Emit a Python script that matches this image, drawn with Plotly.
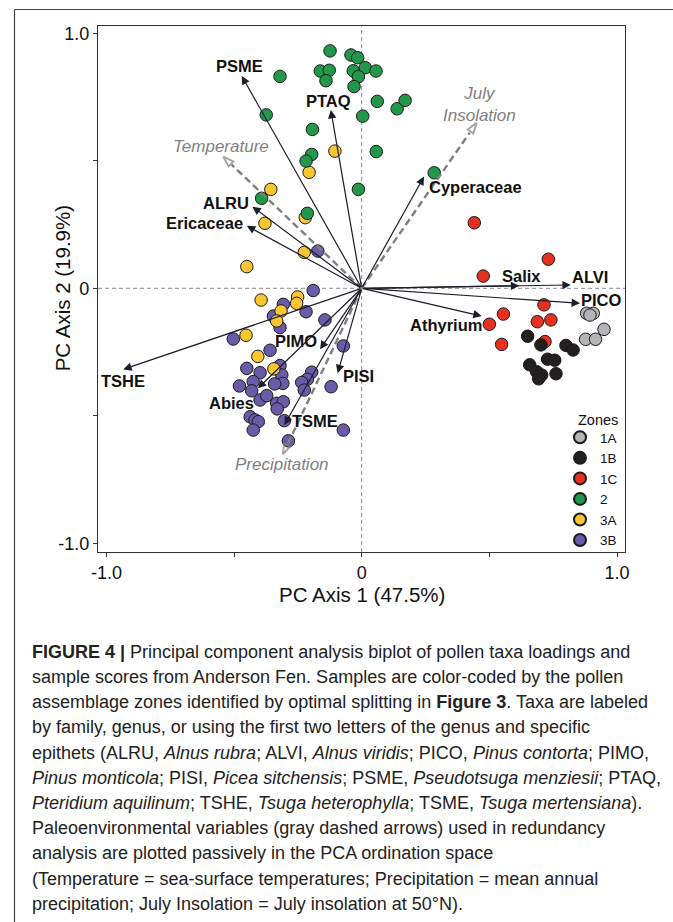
import plotly.graph_objects as go

# ---------------- data ----------------
zones = ["1A", "1B", "1C", "2", "3A", "3B"]

pc1_1A = [0.881, 0.907, 0.894, 0.949, 0.877, 0.916]
pc2_1A = [-0.098, -0.098, -0.105, -0.161, -0.200, -0.200]

pc1_1B = [0.650, 0.702, 0.800, 0.828, 0.728, 0.756, 0.658, 0.685, 0.705, 0.693, 0.761]
pc2_1B = [-0.188, -0.222, -0.224, -0.242, -0.278, -0.282, -0.300, -0.327, -0.340, -0.355, -0.335]

pc1_1C = [0.441, 0.731, 0.476, 0.714, 0.555, 0.500, 0.688, 0.741, 0.548, 0.718]
pc2_1C = [0.257, 0.114, 0.048, -0.065, -0.101, -0.141, -0.131, -0.124, -0.220, -0.209]

pc1_2 = [-0.124, -0.042, -0.016, -0.162, -0.127, -0.140, -0.033, 0.014, 0.056, -0.013,
         -0.030, -0.320, 0.061, 0.139, 0.170, 0.004, -0.374, -0.193, -0.196, -0.218,
         0.057, -0.013, 0.284, -0.392, -0.213]
pc2_2 = [0.931, 0.915, 0.904, 0.852, 0.855, 0.814, 0.853, 0.865, 0.852, 0.830,
         0.791, 0.831, 0.733, 0.704, 0.737, 0.675, 0.680, 0.623, 0.525, 0.499,
         0.536, 0.388, 0.453, 0.353, 0.294]

pc1_3A = [-0.105, -0.206, -0.356, -0.379, -0.221, -0.225, -0.450, -0.394, -0.251,
          -0.255, -0.316, -0.333, -0.453, -0.407, -0.344]
pc2_3A = [0.538, 0.455, 0.388, 0.255, 0.277, 0.141, 0.085, -0.046, -0.034,
          -0.059, -0.089, -0.128, -0.184, -0.267, -0.316]

pc1_3B = [-0.172, -0.190, -0.307, -0.218, -0.346, -0.320, -0.144, -0.503, -0.072, -0.359,
          -0.450, -0.398, -0.320, -0.313, -0.196, -0.213, -0.235, -0.309, -0.341, -0.425,
          -0.479, -0.431, -0.225, -0.120, -0.398, -0.372, -0.333, -0.307, -0.331, -0.437,
          -0.418, -0.405, -0.425, -0.303, -0.072, -0.287]
pc2_3B = [0.146, -0.009, -0.063, -0.092, -0.109, -0.154, -0.124, -0.199, -0.226, -0.243,
          -0.314, -0.331, -0.303, -0.340, -0.329, -0.357, -0.369, -0.373, -0.375, -0.366,
          -0.383, -0.402, -0.399, -0.386, -0.438, -0.421, -0.451, -0.445, -0.473, -0.504,
          -0.516, -0.523, -0.556, -0.519, -0.556, -0.598]

zone_pc1 = {"1A": pc1_1A, "1B": pc1_1B, "1C": pc1_1C, "2": pc1_2, "3A": pc1_3A, "3B": pc1_3B}
zone_pc2 = {"1A": pc2_1A, "1B": pc2_1B, "1C": pc2_1C, "2": pc2_2, "3A": pc2_3A, "3B": pc2_3B}

taxa = ["PSME", "PTAQ", "ALRU", "Ericaceae", "Cyperaceae", "Salix", "ALVI", "PICO",
        "Athyrium", "TSHE", "PIMO", "Abies", "TSME", "PISI"]
taxa_pc1 = [-0.470, -0.121, -0.428, -0.450, 0.244, 0.617, 0.819, 0.855,
            0.470, -0.934, -0.163, -0.407, -0.303, -0.094]
taxa_pc2 = [0.833, 0.699, 0.320, 0.245, 0.438, 0.010, 0.013, -0.059,
            -0.109, -0.318, -0.239, -0.392, -0.536, -0.333]

env_vars = ["Temperature", "July Insolation", "Precipitation"]
env_pc1 = [-0.542, 0.450, -0.309]
env_pc2 = [0.516, 0.649, -0.651]

x_tickvals = [-1.0, -0.5, 0.0, 0.5, 1.0]
x_ticktext = ["-1.0", "", "0", "", "1.0"]
y_tickvals = [-1.0, -0.5, 0.0, 0.5, 1.0]
y_ticktext = ["-1.0", "", "0", "", "1.0"]

caption_lines = [
    "<b>FIGURE 4 |</b> Principal component analysis biplot of pollen taxa loadings and",
    "sample scores from Anderson Fen. Samples are color-coded by the pollen",
    "assemblage zones identified by optimal splitting in <b>Figure 3</b>. Taxa are labeled",
    "by family, genus, or using the first two letters of the genus and specific",
    "epithets (ALRU, <i>Alnus rubra</i>; ALVI, <i>Alnus viridis</i>; PICO, <i>Pinus contorta</i>; PIMO,",
    "<i>Pinus monticola</i>; PISI, <i>Picea sitchensis</i>; PSME, <i>Pseudotsuga menziesii</i>; PTAQ,",
    "<i>Pteridium aquilinum</i>; TSHE, <i>Tsuga heterophylla</i>; TSME, <i>Tsuga mertensiana</i>).",
    "Paleoenvironmental variables (gray dashed arrows) used in redundancy",
    "analysis are plotted passively in the PCA ordination space",
    "(Temperature = sea-surface temperatures; Precipitation = mean annual",
    "precipitation; July Insolation = July insolation at 50°N).",
]

# ---------------- styles ----------------
zone_colors = {"1A": "#b3b4b7", "1B": "#231f20", "1C": "#e5311f",
               "2": "#22984a", "3A": "#f8c630", "3B": "#6a5ba8"}

# label offsets (pixels, label centre relative to arrow tip; +y = up)
taxa_label_off = {
    "PSME": (-2, 10), "PTAQ": (-2, 9), "ALRU": (-26, 4), "Ericaceae": (-42, 3),
    "Cyperaceae": (51, -10), "Salix": (2, 10), "ALVI": (19, 8), "PICO": (22, 3),
    "Athyrium": (-36, -9), "TSHE": (0, -12), "PIMO": (-24, 8), "Abies": (-26, -15),
    "TSME": (31, 4), "PISI": (21, -3),
}
env_label_off = {"Temperature": (-2, 10), "July Insolation": (3, 18), "Precipitation": (-1, -10)}
env_label_text = {"Temperature": "Temperature", "July Insolation": "July<br>Insolation",
                  "Precipitation": "Precipitation"}

W, H = 673, 922
L_PX, R_PX, T_PX, B_PX = 98, 625, 26, 552
PW, PH = R_PX - L_PX, B_PX - T_PX
XR = [-1.0329, 1.0313]
YR = [-1.0341, 1.0286]


def pxx(px):
    return (px - L_PX) / PW


def pxy(py):
    return (B_PX - py) / PH


FONT = "Liberation Sans, Arial, sans-serif"
ARROW_COL = "#1c1d29"
ENV_COL = "#7f7f7f"

fig = go.Figure()

# sample points (drawn in reverse zone order)
for z in reversed(zones):
    fig.add_trace(go.Scatter(
        x=zone_pc1[z], y=zone_pc2[z], mode="markers", name=z,
        marker=dict(size=12.5, color=zone_colors[z], line=dict(color="#1a1a1a", width=1)),
    ))

# environmental (passive) dashed arrows
for name, ex, ey in zip(env_vars, env_pc1, env_pc2):
    f = 0.94
    fig.add_trace(go.Scatter(
        x=[0, ex * f], y=[0, ey * f], mode="lines", showlegend=False, hoverinfo="skip",
        line=dict(color=ENV_COL, width=2.4, dash="7px,4px"),
    ))
    fig.add_trace(go.Scatter(
        x=[ex * 0.9, ex], y=[ey * 0.9, ey], mode="markers", showlegend=False, hoverinfo="skip",
        marker=dict(symbol="arrow-open", size=[0, 11], angleref="previous",
                    color=ENV_COL, line=dict(color=ENV_COL, width=2)),
    ))

annotations = []
for name, tx, ty in zip(taxa, taxa_pc1, taxa_pc2):
    annotations.append(dict(
        x=tx, y=ty, ax=0, ay=0, xref="x", yref="y", axref="x", ayref="y",
        showarrow=True, arrowhead=2, arrowsize=1.4, arrowwidth=1.2, arrowcolor=ARROW_COL,
        text="", standoff=0,
    ))
    dx, dy = taxa_label_off[name]
    annotations.append(dict(
        x=tx, y=ty, xref="x", yref="y", showarrow=False, text="<b>%s</b>" % name,
        xshift=dx, yshift=dy, xanchor="center", yanchor="middle",
        font=dict(family=FONT, size=16.5, color="#111111"),
    ))
for name, ex, ey in zip(env_vars, env_pc1, env_pc2):
    dx, dy = env_label_off[name]
    annotations.append(dict(
        x=ex, y=ey, xref="x", yref="y", showarrow=False, text="<i>%s</i>" % env_label_text[name],
        xshift=dx, yshift=dy, xanchor="center", yanchor="middle",
        font=dict(family=FONT, size=17, color=ENV_COL),
    ))

# legend title
annotations.append(dict(
    x=pxx(576), y=pxy(420), xref="paper", yref="paper", showarrow=False,
    text="Zones", xanchor="left", yanchor="middle",
    font=dict(family=FONT, size=14.5, color="#111111"),
))

# axis titles
annotations.append(dict(
    x=pxx(361.7), y=pxy(594), xref="paper", yref="paper", showarrow=False,
    text="PC Axis 1 (47.5%)", xanchor="center", yanchor="middle",
    font=dict(family=FONT, size=20.5, color="#111111"),
))
annotations.append(dict(
    x=pxx(62), y=pxy(288.3), xref="paper", yref="paper", showarrow=False,
    text="PC Axis 2 (19.9%)", textangle=-90, xanchor="center", yanchor="middle",
    font=dict(family=FONT, size=20.5, color="#111111"),
))

# caption
for i, line in enumerate(caption_lines):
    annotations.append(dict(
        x=pxx(30), y=pxy(651.7 + 25.2 * i), xref="paper", yref="paper", showarrow=False,
        text=line, xanchor="left", yanchor="middle", align="left",
        font=dict(family=FONT, size=18, color="#222222"),
    ))

shapes = [
    dict(type="line", xref="x", yref="y", x0=0, x1=0, y0=YR[0], y1=YR[1],
         line=dict(color="#8a8a8a", width=1, dash="4px,3px"), layer="below"),
    dict(type="line", xref="x", yref="y", x0=XR[0], x1=XR[1], y0=0, y1=0,
         line=dict(color="#8a8a8a", width=1, dash="4px,3px"), layer="below"),
    # outer figure frame (left and top edges)
    dict(type="line", xref="paper", yref="paper", x0=pxx(14.5), x1=pxx(14.5), y0=pxy(9.5), y1=pxy(922),
         line=dict(color="#444444", width=1.2)),
    dict(type="line", xref="paper", yref="paper", x0=pxx(14.5), x1=pxx(673), y0=pxy(9.5), y1=pxy(9.5),
         line=dict(color="#444444", width=1.2)),
]

axis_common = dict(
    showgrid=False, zeroline=False, showline=True, mirror=True, linecolor="#333333",
    linewidth=1.2, ticks="outside", ticklen=4, tickwidth=1, tickcolor="#333333",
    tickfont=dict(family=FONT, size=18, color="#111111"),
)

fig.update_layout(
    width=W, height=H,
    margin=dict(l=L_PX, r=W - R_PX, t=T_PX, b=H - B_PX, autoexpand=False),
    paper_bgcolor="white", plot_bgcolor="white",
    xaxis=dict(range=XR, tickvals=x_tickvals, ticktext=x_ticktext, **axis_common),
    yaxis=dict(range=YR, tickvals=y_tickvals, ticktext=y_ticktext, **axis_common),
    legend=dict(
        x=pxx(560), y=pxy(422), xanchor="left", yanchor="top",
        traceorder="reversed", bgcolor="rgba(0,0,0,0)",
        font=dict(family=FONT, size=13.5, color="#111111"),
        itemsizing="constant", tracegroupgap=0,
    ),
    annotations=annotations, shapes=shapes,
)

fig.write_html(
    "out.html",
    config={"displayModeBar": False},
    post_script="document.body.style.margin='0';document.body.style.overflow='hidden';",
)
